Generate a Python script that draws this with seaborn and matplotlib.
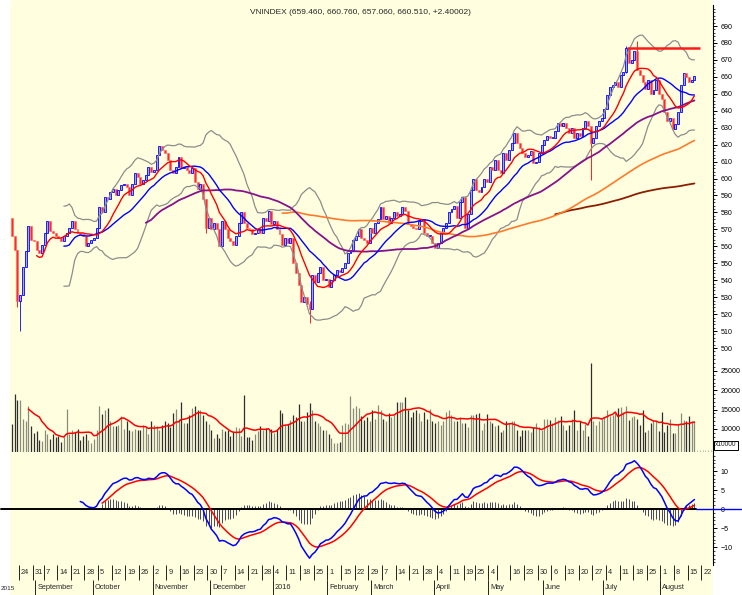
import numpy as np
import pandas as pd
import matplotlib
matplotlib.use('Agg')
import matplotlib.pyplot as plt
from matplotlib.patches import Rectangle
import seaborn as sns

sns.set_style('white')
plt.rcParams['font.family'] = ['Liberation Sans Narrow', 'Liberation Sans', 'DejaVu Sans']

# daily closes of VNINDEX (19 Aug 2015 -> 17 Aug 2016)
close = [
    566, 558, 528, 531, 548, 557, 572, 564, 563, 558,
    556, 561, 568, 575, 569, 568, 566, 565, 563, 566,
    568, 571, 575, 570, 568, 567, 566, 560, 562, 564,
    565, 571, 583, 580, 589, 588, 592, 594, 590, 593,
    596, 597, 595, 590, 597, 603, 601, 597, 599, 602,
    607, 604, 605, 614, 619, 617, 615, 611, 605, 603,
    607, 613, 606, 607, 605, 603, 606, 598, 594, 597,
    588, 571, 577, 570, 574, 570, 560, 575, 570, 565,
    563, 561, 566, 574, 580, 574, 571, 570, 567, 568,
    570, 568, 577, 575, 581, 573, 575, 570, 567, 561,
    565, 562, 565, 550, 544, 537, 527, 530, 526, 523,
    543, 539, 544, 548, 540, 541, 536, 540, 543, 546,
    545, 547, 550, 556, 558, 564, 566, 570, 565, 564,
    562, 571, 568, 574, 576, 583, 576, 578, 574, 577,
    580, 578, 579, 583, 581, 573, 572, 571, 570, 575,
    576, 568, 566, 566, 562, 559, 562, 568, 571, 574,
    580, 582, 584, 577, 586, 589, 571, 579, 593, 600,
    593, 592, 595, 600, 598, 607, 605, 611, 605, 603,
    615, 611, 617, 621, 627, 621, 618, 615, 613, 614,
    616, 609, 610, 615, 620, 623, 625, 624, 624, 628,
    633, 631, 633, 630, 627, 630, 624, 627, 625, 630,
    634, 631, 621, 624, 631, 634, 636, 641, 649, 654,
    655, 657, 654, 661, 663, 677, 668, 670, 675, 664,
    661, 657, 653, 658, 650, 652, 658, 650, 647, 639,
    634, 636, 629, 632, 639, 655, 662, 660, 657, 658.11,
    660.51,
]
first_open = 577

# daily volume (units of 10000 shares as on the chart)
volume = [
    11300, 19000, 17500, 17500, 12500, 12100, 16000, 10800, 9000, 9500,
    7200, 7000, 9800, 8700, 7300, 8600, 8000, 8100, 6700, 7900,
    15200, 8600, 9800, 9300, 10100, 7100, 8100, 8600, 7200, 6500,
    7300, 9700, 16000, 13900, 15000, 15400, 12100, 10800, 10800, 11000,
    13300, 10100, 12100, 9700, 9500, 10100, 9800, 9700, 11000, 10500,
    8700, 12000, 11000, 10800, 9700, 11000, 12000, 11500, 10500, 14200,
    15100, 12700, 16900, 11600, 11600, 13600, 15400, 16000, 14800, 14800,
    13600, 12000, 11200, 9800, 7700, 8700, 7700, 10100, 9500, 9800,
    8100, 9200, 10500, 10300, 8100, 18800, 8000, 8000, 7200, 8600,
    9500, 10800, 9700, 10300, 9700, 10100, 9000, 10100, 15000, 14200,
    11000, 11300, 12400, 13600, 13200, 16500, 12000, 12000, 14500, 16600,
    15000, 12000, 11500, 10800, 9700, 9700, 8700, 7600, 6500, 6500,
    6700, 11000, 11600, 11300, 18500, 15400, 16000, 15400, 13400, 12400,
    13200, 12100, 14800, 12700, 16200, 15000, 12500, 12100, 14000, 13200,
    13600, 17100, 17100, 17100, 18200, 15000, 13000, 14500, 14800, 14200,
    12000, 14500, 12700, 15100, 12000, 11500, 12000, 11000, 12000, 14500,
    15000, 13600, 12000, 12000, 13200, 11600, 11500, 10500, 13600, 13600,
    13900, 14200, 9800, 11600, 13900, 12000, 11500, 10800, 11000, 9200,
    9700, 12000, 11600, 12100, 12000, 9700, 8100, 9800, 9800, 9700,
    9200, 10500, 11500, 10500, 9800, 12700, 12500, 12400, 11500, 13000,
    12400, 13400, 11000, 9700, 11000, 12500, 15000, 9800, 12000, 9700,
    11300, 8100, 27000, 12000, 11000, 12000, 12700, 13200, 14800, 13400,
    13600, 14000, 15400, 15600, 14500, 16000, 12400, 13000, 13400, 12700,
    11000, 15000, 9200, 9800, 11600, 12400, 12100, 9500, 14500, 9200,
    11000, 12500, 9000, 9000, 11300, 14000, 12400, 12000, 13400, 12100,
    12000,
]

# candles with long shadows: index -> (low, high)
shadows = {2: (524, 558), 3: (510, 531), 109: (515, 528), 212: (599, 628),
           229: (664, 681), 225: (662, 678), 71: (568, 588)}

holidays = ['2015-09-02', '2016-01-01', '2016-02-08', '2016-02-09', '2016-02-10',
            '2016-02-11', '2016-02-12', '2016-04-18', '2016-05-02', '2016-05-03']
month_names = ['', 'January', 'February', 'March', 'April', 'May', 'June', 'July',
               'August', 'September', 'October', 'November', 'December']
title = 'VNINDEX (659.460, 660.760, 657.060, 660.510, +2.40002)'
resistance = 677

n = len(close)
days = pd.bdate_range('2015-08-19', '2016-09-05')
days = days[~days.isin(pd.to_datetime(holidays))][:258]

df = pd.DataFrame({'i': np.arange(n), 'close': close, 'vol': volume})
df['open'] = df['close'].shift(1).fillna(first_open)
df['up'] = df['close'] >= df['open']
c = df['close']
df['ma10'] = c.rolling(10).mean()
df['ma20'] = c.rolling(20).mean()
sd = c.rolling(20).std(ddof=0)
df['bb_up'] = df['ma20'] + 2 * sd
df['bb_lo'] = df['ma20'] - 2 * sd
df['ma50'] = c.rolling(50).mean()
df['ma100'] = c.rolling(100).mean()
df['ma200'] = c.rolling(200).mean()
df['vma'] = df['vol'].rolling(10, min_periods=7).mean()
ema12 = c.ewm(span=12, adjust=False).mean()
ema26 = c.ewm(span=26, adjust=False).mean()
df['macd'] = (ema12 - ema26).where(df['i'] >= 25)
df['sig'] = df['macd'].ewm(span=9, adjust=False).mean().where(df['i'] >= 33)
df['hist'] = (df['macd'] - df['sig']).fillna(0)

# ---- figure layout in pixels ----
W, H = 742, 595
BG = '#ffffe0'


def rect(x0, y0, x1, y1):
    return [x0 / W, 1 - y1 / H, (x1 - x0) / W, (y1 - y0) / H]


fig = plt.figure(figsize=(W / 100, H / 100), dpi=100, facecolor='white')
fig.add_artist(Rectangle((11 / W, 0), (713 - 11) / W, 1, transform=fig.transFigure,
                         facecolor=BG, edgecolor='none', zorder=0))

ax_p = fig.add_axes(rect(10, 5, 713, 357))
ax_v = fig.add_axes(rect(10, 357, 713, 452), sharex=ax_p)
ax_m = fig.add_axes(rect(10, 452, 713, 565), sharex=ax_p)
ax_d = fig.add_axes(rect(10, 565, 713, 595), sharex=ax_p)

x_lo, x_hi = -0.73, 256.8
for ax in (ax_p, ax_v, ax_m, ax_d):
    ax.set_facecolor(BG)
    for s in ('top', 'left', 'bottom'):
        ax.spines[s].set_visible(False)
    ax.spines['right'].set_color('black')
    ax.spines['right'].set_linewidth(0.8)
    ax.yaxis.tick_right()
    ax.tick_params(axis='y', which='major', direction='out', length=3, width=0.7,
                   labelsize=5.1, pad=2.5, colors='black')
    ax.tick_params(axis='y', which='minor', direction='out', length=1.5, width=0.6)
    ax.tick_params(axis='x', which='both', bottom=False, labelbottom=False)
ax_p.set_xlim(x_lo, x_hi)

# ---- price panel ----
for _, r in df.iterrows():
    lo_b, hi_b = min(r.open, r.close), max(r.open, r.close)
    h = max(hi_b - lo_b, 0.5)
    if r.i in shadows:
        lo, hi = shadows[int(r.i)]
        ax_p.vlines(r.i, lo, hi, color='#0000ff' if r.up else '#ff0000', lw=0.6, zorder=3)
    if r.up:
        ax_p.bar(r.i, h, bottom=lo_b, width=0.72, facecolor='#a9a9f2',
                 edgecolor='#0000ff', linewidth=0.6, zorder=4)
    else:
        ax_p.bar(r.i, h, bottom=lo_b, width=0.72, facecolor='#ff2a2a',
                 edgecolor='#ff6060', linewidth=0.4, zorder=4)

line_styles = [('bb_up', '#8c8c8c', 0.9), ('bb_lo', '#8c8c8c', 0.9),
               ('ma200', '#8b1e00', 1.3), ('ma100', '#ff7a2a', 1.2),
               ('ma50', '#85138a', 1.3), ('ma20', '#0000ff', 1.0), ('ma10', '#ff0000', 1.0)]
for col, colr, lw in line_styles:
    sns.lineplot(data=df, x='i', y=col, ax=ax_p, color=colr, linewidth=lw, zorder=5,
                 legend=False)
ax_p.hlines(resistance, 225.3, 252, color='#ff1a1a', lw=1.8, zorder=6)
ax_p.set_ylim(494.7, 702.4)
ax_p.set_yticks(np.arange(500, 700, 10))
ax_p.set_yticks(np.arange(496, 702, 2), minor=True)

fig.text(360 / W, 1 - 13 / H, title, ha='center', va='center', fontsize=6)

# ---- volume panel ----
ax_v.vlines(df['i'], 0, df['vol'], lw=0.9,
            colors=np.where(df['up'], '#8a8a78', '#2e2e2e'), zorder=3)
sns.lineplot(data=df, x='i', y='vma', ax=ax_v, color='#ff0000', linewidth=1.1, zorder=4,
             legend=False)
ax_v.set_ylim(4050, 28600)
ax_v.set_yticks([10000, 15000, 20000, 25000])
ax_v.set_yticks(np.arange(5000, 28600, 1000), minor=True)
# daily tick row along the bottom of the volume panel
ax_v.vlines(np.arange(0, 257), 4050, 4650, color='#9a9a9a', lw=0.5, zorder=2)
fig.text(715 / W, 1 - 445 / H, 'x10000', ha='left', va='center', fontsize=4.8,
         bbox=dict(boxstyle='square,pad=0.15', facecolor='white', edgecolor='black', lw=0.7))

# ---- MACD panel ----
ax_m.vlines(df['i'], 0, df['hist'], lw=0.7, colors='#45455e', zorder=3)
ax_m.plot([-4, 250.5], [0, 0], color='black', lw=1.4, clip_on=False, zorder=4)
ax_m.plot([250.5, 267], [0, 0], color='#0000ff', lw=1.0, clip_on=False, zorder=4)
sns.lineplot(data=df, x='i', y='sig', ax=ax_m, color='#ff0000', linewidth=1.1, zorder=5,
             legend=False)
sns.lineplot(data=df, x='i', y='macd', ax=ax_m, color='#0000ff', linewidth=1.1, zorder=6,
             legend=False)
ax_m.set_ylim(-14.7, 15)
ax_m.set_yticks([-10, -5, 0, 5, 10])
ax_m.set_yticks(np.arange(-14, 15, 1), minor=True)

for ax in (ax_p, ax_v, ax_m):
    ax.set_xlabel('')
    ax.set_ylabel('')

# ---- date strip ----
ax_d.set_ylim(0, 1)
ax_d.set_yticks([])
ax_d.spines['right'].set_visible(False)
last_lab = -10
for k in range(len(days)):
    d = days[k]
    pos = k - 0.45
    if k > 0 and d.weekday() <= days[k - 1].weekday():
        ax_d.vlines(pos, 0.5, 1.0, color='black', lw=0.6)
        if k - last_lab >= 4 and pos < x_hi - 1:
            ax_d.text(pos + 0.7, 0.75, str(d.day), fontsize=5.3, ha='left', va='center')
            last_lab = k
    if k > 0 and d.month != days[k - 1].month:
        ax_d.vlines(pos, 0.0, 0.5, color='black', lw=0.6)
        name = str(d.year) if d.month == 1 else month_names[d.month]
        ax_d.text(pos + 0.7, 0.25, name, fontsize=5.3, ha='left', va='center')
fig.text(0.5 / W, 1 - 588 / H, '2015', fontsize=4.6, ha='left', va='center')

fig.savefig('out.png', dpi=100, facecolor='white')
